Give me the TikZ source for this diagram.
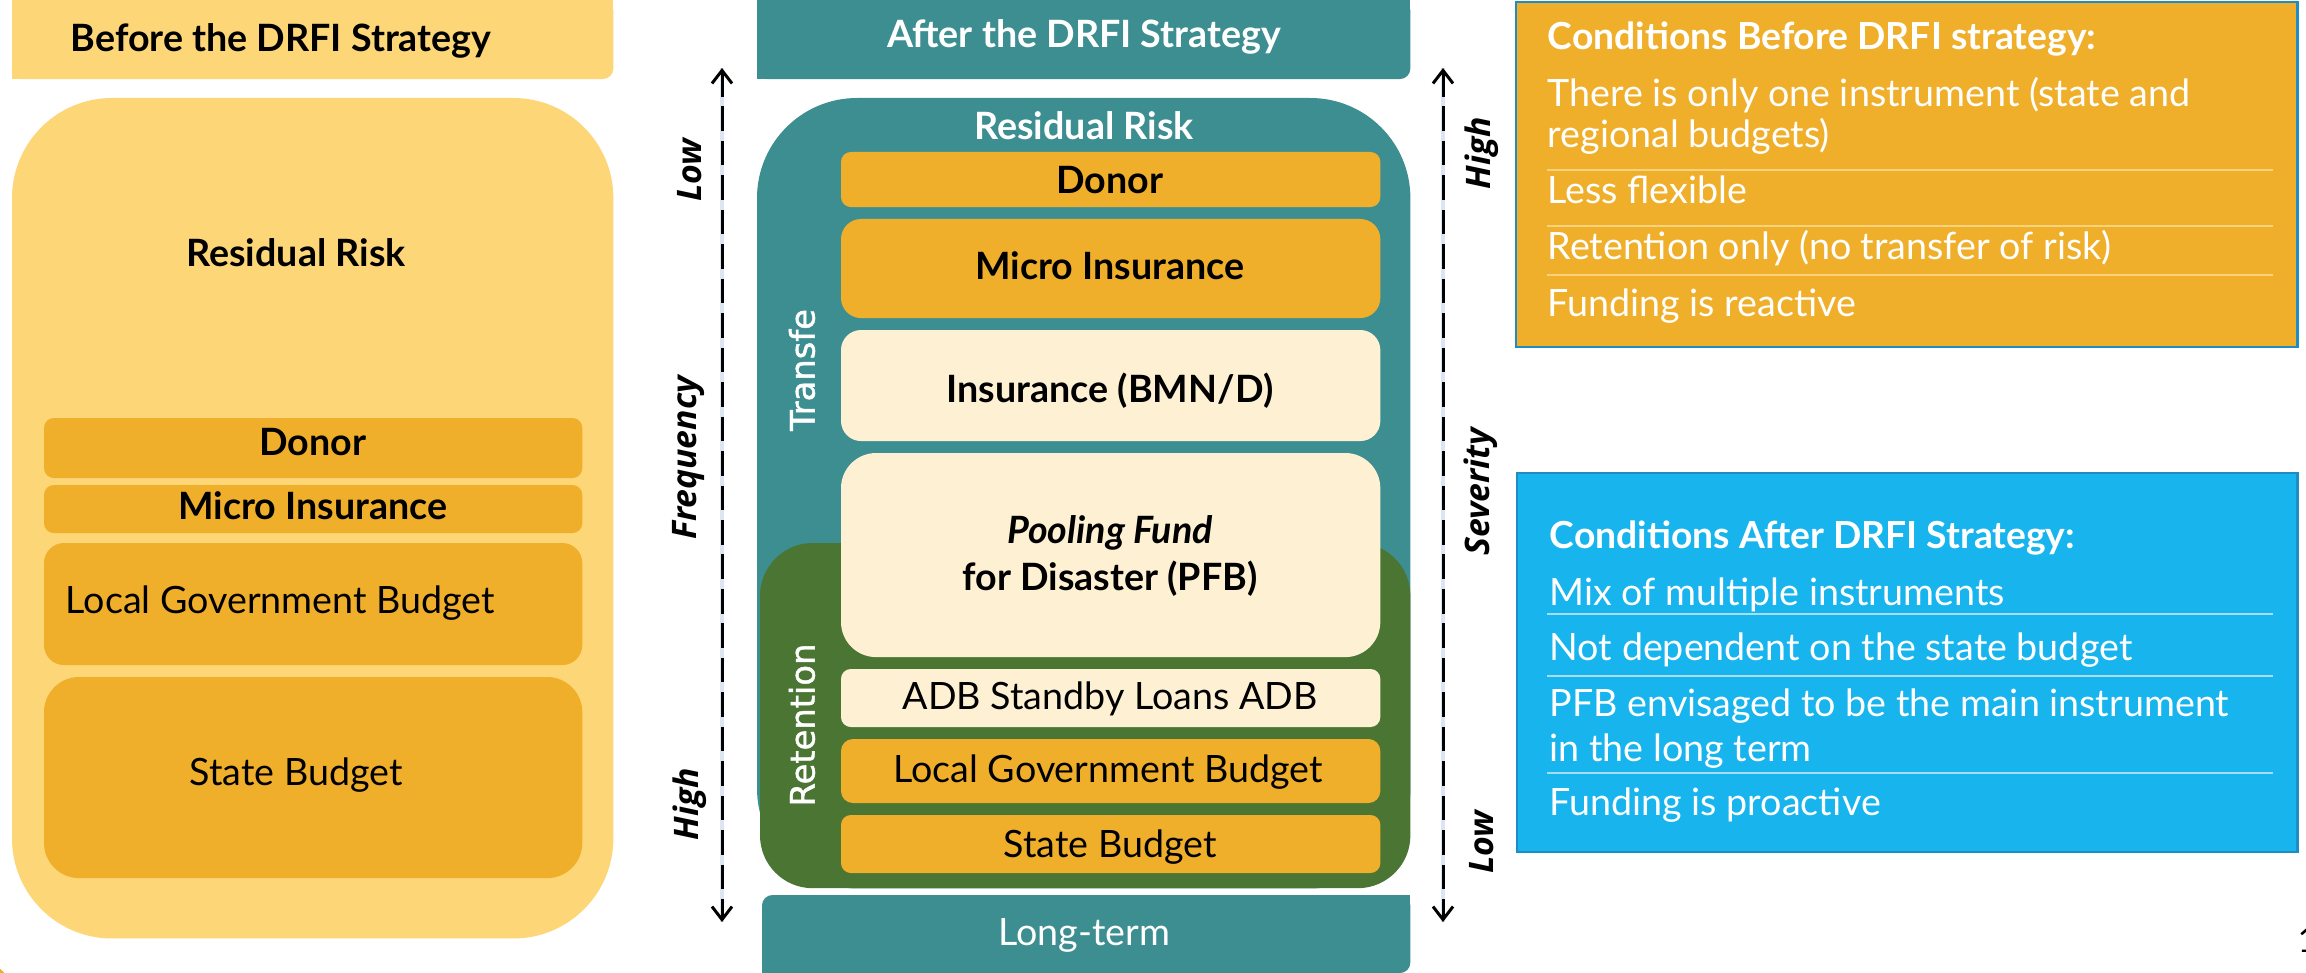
\documentclass[tikz,border=0pt]{standalone}
\usepackage{fontspec}
\setmainfont{Lato}
\newfontfamily\axisfont{Open Sans}
\newfontfamily\vertfont[FakeBold=1.3]{DejaVu Sans}
\usetikzlibrary{arrows.meta}
\definecolor{ylwL}{HTML}{FDD677}
\definecolor{orng}{HTML}{F0AF2B}
\definecolor{crm}{HTML}{FEF0D2}
\definecolor{tealB}{HTML}{3D8E91}
\definecolor{grn}{HTML}{4A7532}
\definecolor{sky}{HTML}{17B4EE}
\definecolor{bbord}{HTML}{1F8DC2}
\definecolor{sepY}{HTML}{F9D27C}
\definecolor{sepB}{HTML}{A5DFF5}
\definecolor{halo}{HTML}{DCE5F1}
\begin{document}
\begin{tikzpicture}[x=0.01cm,y=-0.01cm,
  box/.style={inner sep=0pt, outer sep=0pt, anchor=north west, draw=none},
  txt/.style={inner sep=0pt, anchor=base, font=\fontsize{10.7pt}{12pt}\selectfont},
  btxt/.style={txt, font=\fontsize{10.7pt}{12pt}\selectfont\bfseries},
  ctxt/.style={inner sep=0pt, anchor=base west, text=white, font=\fontsize{10.7pt}{12pt}\selectfont},
  cttl/.style={ctxt, font=\fontsize{10.6pt}{12pt}\selectfont\bfseries},
  axlbl/.style={inner sep=0pt, rotate=90, font=\fontsize{9.6pt}{12pt}\axisfont\bfseries\itshape},
  vlbl/.style={inner sep=0pt, rotate=90, text=white, font=\fontsize{9.6pt}{11pt}\vertfont},
  axisline/.style={line width=0.85pt, dash pattern=on 7pt off 2.8pt, {Straight Barb[length=3.7pt,width=5.7pt]}-{Straight Barb[length=3.7pt,width=5.7pt]}},
  haloline/.style={halo, line width=1.3pt},
  sepline/.style={line width=0.6pt}
]
\useasboundingbox (0,0) rectangle (2306,973);
\fill[white] (0,0) rectangle (2306,973);

% decorative sliver bottom-left
\fill[orng] (-25,1000) circle (40);

% ================= LEFT: before =================
\node[box, fill=ylwL, minimum width=6.01cm, minimum height=0.79cm, rounded corners=3pt] (lhead) at (12,0) {};
\fill[ylwL] (12,0) rectangle (590,79);
\fill[ylwL] (12,0) rectangle (613,60);
\node[inner sep=0pt, anchor=base west, font=\fontsize{10.7pt}{12pt}\selectfont\bfseries] (lheadt) at (70,52) {Before the DRFI Strategy};

\node[box, fill=ylwL, minimum width=6.01cm, minimum height=8.40cm, rounded corners=1cm] (lbig) at (12,98) {};
\node[btxt] (lres) at (296,267) {Residual Risk};

\node[box, fill=orng, minimum width=5.38cm, minimum height=0.60cm, rounded corners=2.8pt] (ldon) at (44,418) {};
\node[btxt] (ldont) at (313,455) {Donor};
\node[box, fill=orng, minimum width=5.38cm, minimum height=0.48cm, rounded corners=2.8pt] (lmic) at (44,485) {};
\node[btxt] (lmict) at (313,519) {Micro Insurance};
\node[box, fill=orng, minimum width=5.38cm, minimum height=1.22cm, rounded corners=5.7pt] (llgb) at (44,543) {};
\node[txt, anchor=base west] (llgbt) at (65,613) {Local Government Budget};
\node[box, fill=orng, minimum width=5.38cm, minimum height=2.01cm, rounded corners=10pt] (lsb) at (44,677) {};
\node[txt] (lsbt) at (296,785) {State Budget};

% ================= MIDDLE: after =================
\node[box, fill=tealB, minimum width=6.53cm, minimum height=0.79cm, rounded corners=3pt] (mhead) at (757,0) {};
\fill[tealB] (757,0) rectangle (1395,79);
\fill[tealB] (757,0) rectangle (1410,60);
\node[btxt, text=white] (mheadt) at (1084,48) {After the DRFI Strategy};

\node[box, fill=tealB, minimum width=6.53cm, minimum height=7.90cm, rounded corners=1cm] (mbig) at (757,98) {};
\node[box, fill=grn, minimum width=6.50cm, minimum height=3.45cm, rounded corners=15pt] (mgrn) at (760,543) {};
\node[btxt, text=white] (mres) at (1084,140) {Residual Risk};

\node[box, fill=orng, minimum width=5.39cm, minimum height=0.55cm, rounded corners=2.8pt] (mdon) at (841,152) {};
\node[btxt] (mdont) at (1110,193) {Donor};
\node[box, fill=orng, minimum width=5.39cm, minimum height=0.99cm, rounded corners=5.7pt] (mmic) at (841,219) {};
\node[btxt] (mmict) at (1110,280) {Micro Insurance};
\node[box, fill=crm, minimum width=5.39cm, minimum height=1.11cm, rounded corners=5.7pt] (mins) at (841,330) {};
\node[btxt] (minst) at (1110,402) {Insurance (BMN/D)};
\node[box, fill=crm, minimum width=5.39cm, minimum height=2.04cm, rounded corners=10pt] (mpool) at (841,453) {};
\node[btxt, font=\fontsize{10.7pt}{12pt}\selectfont\bfseries\itshape] (mpoolt) at (1110,543) {Pooling Fund};
\node[btxt] (mpoolt2) at (1110,590) {for Disaster (PFB)};
\node[box, fill=crm, minimum width=5.39cm, minimum height=0.58cm, rounded corners=2.8pt] (madb) at (841,669) {};
\node[txt] (madbt) at (1110,709) {ADB Standby Loans ADB};
\node[box, fill=orng, minimum width=5.39cm, minimum height=0.64cm, rounded corners=3.4pt] (mlgb) at (841,739) {};
\node[txt] (mlgbt) at (1108,782) {Local Government Budget};
\node[box, fill=orng, minimum width=5.39cm, minimum height=0.58cm, rounded corners=2.8pt] (msb) at (841,815) {};
\node[txt] (msbt) at (1110,857) {State Budget};

\node[vlbl] (mtr) at (802,370) {Transfe};
\node[vlbl] (mret) at (802,725) {Retention};

\node[box, fill=tealB, minimum width=6.48cm, minimum height=0.78cm, rounded corners=3pt] (mlong) at (762,895) {};
\fill[tealB] (775,895) rectangle (1410,940);
\fill[tealB] (762,910) rectangle (1390,973);
\node[txt, text=white, font=\fontsize{10.7pt}{12pt}\selectfont] (mlongt) at (1084,945) {Long-term};

% ================= AXES =================
\coordinate (fa) at (722,68);
\coordinate (fb) at (722,922);
\draw[haloline] (fa) -- (fb);
\draw[axisline] (fa) -- (fb);
\node[axlbl] (flow) at (690,170) {Low};
\node[axlbl] (ffreq) at (688,458) {Frequency};
\node[axlbl] (fhigh) at (690,804) {High};

\coordinate (sa) at (1443,68);
\coordinate (sb) at (1443,922);
\draw[haloline] (sa) -- (sb);
\draw[axisline] (sa) -- (sb);
\node[axlbl] (shigh) at (1482,153) {High};
\node[axlbl] (ssev) at (1481,492) {Severity};
\node[axlbl] (slow) at (1482,842) {Low};

% ================= RIGHT: conditions =================
\node[box, fill=orng, draw=bbord, line width=0.6pt, minimum width=7.81cm, minimum height=3.45cm] (cbef) at (1516,2) {};
\node[cttl] (cbef0) at (1547,50) {Conditions Before DRFI strategy:};
\node[ctxt] (cbef1) at (1547,107) {There is only one instrument (state and};
\node[ctxt] (cbef1b) at (1547,148) {regional budgets)};
\node[ctxt] (cbef2) at (1547,204) {Less flexible};
\node[ctxt] (cbef3) at (1547,260) {Retention only (no transfer of risk)};
\node[ctxt] (cbef4) at (1547,316) {Funding is reactive};
\draw[sepY, sepline] (1547,170) -- (2273,170);
\draw[sepY, sepline] (1547,226) -- (2273,226);
\draw[sepY, sepline] (1547,275) -- (2273,275);

\node[box, fill=sky, draw=bbord, line width=0.6pt, minimum width=7.80cm, minimum height=3.79cm] (caft) at (1517,473) {};
\node[cttl] (caft0) at (1549,548) {Conditions After DRFI Strategy:};
\node[ctxt] (caft1) at (1549,605) {Mix of multiple instruments};
\node[ctxt] (caft2) at (1549,660) {Not dependent on the state budget};
\node[ctxt] (caft3) at (1549,716) {PFB envisaged to be the main instrument};
\node[ctxt] (caft3b) at (1549,761) {in the long term};
\node[ctxt] (caft4) at (1549,815) {Funding is proactive};
\draw[sepB, sepline] (1547,614) -- (2273,614);
\draw[sepB, sepline] (1547,676) -- (2273,676);
\draw[sepB, sepline] (1547,773) -- (2273,773);

% page number fragment
\node[inner sep=0pt, anchor=base west, font=\fontsize{10pt}{12pt}\selectfont] (pnum) at (2297,952) {1};
\end{tikzpicture}
\end{document}
